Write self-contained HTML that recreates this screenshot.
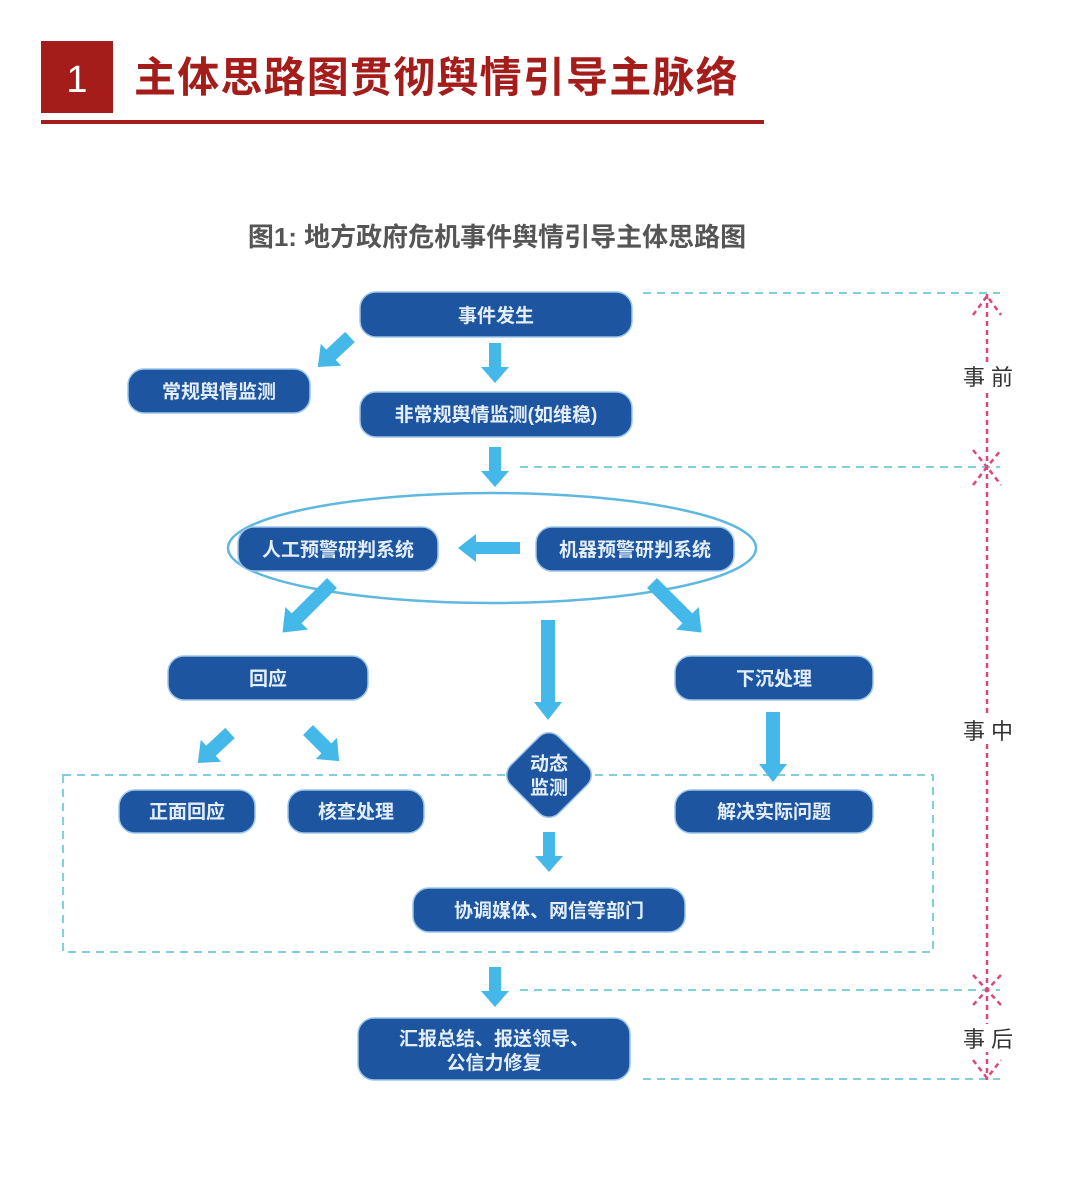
<!DOCTYPE html>
<html><head><meta charset="utf-8"><style>
html,body{margin:0;padding:0;background:#fff;}
svg{display:block}
text{font-family:"Liberation Sans","Noto Sans CJK SC",sans-serif;}
</style></head><body>
<svg width="1080" height="1190" viewBox="0 0 1080 1190" xmlns="http://www.w3.org/2000/svg">
<rect x="41" y="41" width="72" height="72" fill="#a51d1a"/>
<text x="77" y="92" font-size="38" fill="#fff" text-anchor="middle">1</text>
<text x="134" y="92" font-size="42" font-weight="bold" fill="#a51d1a" letter-spacing="1.2" font-family="Noto Sans CJK SC,sans-serif">主体思路图贯彻舆情引导主脉络</text>
<rect x="41" y="120" width="723" height="4" fill="#a51d1a"/>
<text x="497" y="246" font-size="26" font-weight="bold" fill="#555" text-anchor="middle">图1: 地方政府危机事件舆情引导主体思路图</text>

<g stroke="#7fd0dc" stroke-width="2" stroke-dasharray="8,6" fill="none">
<line x1="643" y1="293" x2="1000" y2="293"/>
<line x1="520" y1="467" x2="1000" y2="467"/>
<line x1="520" y1="990" x2="1000" y2="990"/>
<line x1="643" y1="1079" x2="1000" y2="1079"/>
<rect x="63" y="775" width="870" height="177"/>
</g>
<g stroke="#e0467a" stroke-width="2.5" stroke-dasharray="5,4" fill="none">
<line x1="987" y1="294" x2="987" y2="1080"/>
<polyline points="973,315 987,296 1001,315"/>
<polyline points="973,450 987,467 1001,450"/>
<polyline points="973,485 987,467 1001,485"/>
<polyline points="973,975 987,990 1001,975"/>
<polyline points="973,1005 987,990 1001,1005"/>
<polyline points="973,1060 987,1078 1001,1060"/>
</g>
<g font-size="22" fill="#333" text-anchor="middle">
<rect x="958" y="362" width="60" height="28" fill="#fff"/>
<text x="988" y="385">事 前</text>
<rect x="958" y="716" width="60" height="28" fill="#fff"/>
<text x="988" y="739">事 中</text>
<rect x="958" y="1024" width="60" height="28" fill="#fff"/>
<text x="988" y="1047">事 后</text>
</g>

<ellipse cx="492" cy="548" rx="264" ry="55" fill="none" stroke="#5fb8e0" stroke-width="2.5"/>

<g fill="#1d55a0" stroke="#9cc6ea" stroke-width="1.5">
<rect x="360" y="292" width="272" height="45" rx="16"/>
<rect x="128" y="369" width="182" height="44" rx="16"/>
<rect x="360" y="392" width="272" height="45" rx="16"/>
<rect x="238" y="527" width="200" height="44" rx="16"/>
<rect x="536" y="527" width="198" height="44" rx="16"/>
<rect x="168" y="656" width="200" height="44" rx="16"/>
<rect x="675" y="656" width="198" height="44" rx="16"/>
<rect x="119" y="790" width="136" height="43" rx="16"/>
<rect x="288" y="790" width="136" height="43" rx="16"/>
<rect x="675" y="790" width="198" height="43" rx="16"/>
<rect x="413" y="888" width="272" height="44" rx="16"/>
<rect x="358" y="1018" width="272" height="62" rx="16"/>
<rect x="515" y="741" width="68" height="68" rx="14" transform="rotate(45 549 775)"/>
</g>

<g font-size="19" fill="#e3eefa" text-anchor="middle" font-weight="bold">
<text x="496" y="322">事件发生</text>
<text x="219" y="398">常规舆情监测</text>
<text x="496" y="421">非常规舆情监测(如维稳)</text>
<text x="338" y="556">人工预警研判系统</text>
<text x="635" y="556">机器预警研判系统</text>
<text x="268" y="685">回应</text>
<text x="774" y="685">下沉处理</text>
<text x="187" y="818">正面回应</text>
<text x="356" y="818">核查处理</text>
<text x="774" y="818">解决实际问题</text>
<text x="549" y="917">协调媒体、网信等部门</text>
<text x="494" y="1045">汇报总结、报送领导、</text>
<text x="494" y="1069">公信力修复</text>
<text x="549" y="770">动态</text>
<text x="549" y="794">监测</text>
</g>

<g fill="#45b8ea">
<polygon transform="translate(495,343) rotate(90)" points="0,-6 24,-6 24,-14 40,0 24,14 24,6 0,6"/>
<polygon transform="translate(350,337) rotate(137)" points="0,-7 26,-7 26,-15 44,0 26,15 26,7 0,7"/>
<polygon transform="translate(495,447) rotate(90)" points="0,-6 24,-6 24,-14 40,0 24,14 24,6 0,6"/>
<polygon transform="translate(520,548) rotate(180)" points="0,-6 44,-6 44,-14 62,0 44,14 44,6 0,6"/>
<polygon transform="translate(332,583) rotate(135)" points="0,-7 50,-7 50,-16 70,0 50,16 50,7 0,7"/>
<polygon transform="translate(652,583) rotate(45)" points="0,-7 50,-7 50,-16 70,0 50,16 50,7 0,7"/>
<polygon transform="translate(548,620) rotate(90)" points="0,-7 82,-7 82,-14 100,0 82,14 82,7 0,7"/>
<polygon transform="translate(230,733) rotate(137)" points="0,-7 26,-7 26,-15 44,0 26,15 26,7 0,7"/>
<polygon transform="translate(308,730) rotate(45)" points="0,-7 26,-7 26,-15 44,0 26,15 26,7 0,7"/>
<polygon transform="translate(773,712) rotate(90)" points="0,-7 52,-7 52,-14 70,0 52,14 52,7 0,7"/>
<polygon transform="translate(549,832) rotate(90)" points="0,-6 24,-6 24,-14 40,0 24,14 24,6 0,6"/>
<polygon transform="translate(495,967) rotate(90)" points="0,-6 24,-6 24,-14 40,0 24,14 24,6 0,6"/>
</g>
</svg>
</body></html>
